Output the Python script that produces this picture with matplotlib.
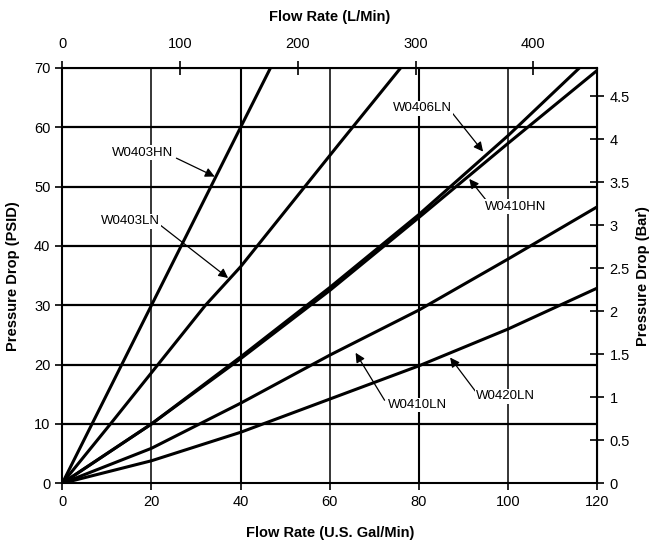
import matplotlib
matplotlib.use("Agg")
import matplotlib.pyplot as plt

plt.rcParams['font.family'] = ['Liberation Sans', 'DejaVu Sans']

# Flow (US gal/min) vs pressure drop (PSID)
w0403hn_gpm = [0, 10, 20, 40, 46.7]
w0403hn_psi = [0, 15, 30, 60, 70]
w0403ln_gpm = [0, 10.8, 32.1, 40, 62.2, 75.9]
w0403ln_psi = [0, 10, 30, 36.5, 57.3, 70]
w0406ln_gpm = [0, 20, 40, 60, 80, 100, 116]
w0406ln_psi = [0, 10, 21.3, 33, 45.3, 58.6, 70]
w0410hn_gpm = [0, 20, 40, 60, 80, 100, 120]
w0410hn_psi = [0, 10, 21, 32.5, 44.8, 57.3, 69.6]
w0410ln_gpm = [0, 20, 40, 60, 80, 100, 120]
w0410ln_psi = [0, 5.9, 13.5, 21.6, 29.2, 37.8, 46.6]
w0420ln_gpm = [0, 20, 40, 60, 80, 100, 120]
w0420ln_psi = [0, 3.8, 8.6, 14.2, 19.8, 26.0, 32.9]

x_ticks = [0, 20, 40, 60, 80, 100, 120]
y_ticks = [0, 10, 20, 30, 40, 50, 60, 70]
lpm_ticks = [0, 100, 200, 300, 400]
bar_ticks = [0, 0.5, 1, 1.5, 2, 2.5, 3, 3.5, 4, 4.5]

GPM_TO_LPM = 3.78541
PSI_TO_BAR = 1 / 14.5038

fig = plt.figure(figsize=(6.57, 5.46), dpi=100)
ax = fig.add_axes([0.0948, 0.1148, 0.8142, 0.7607])

# grid lines
for yv in [10, 20, 30, 40, 50, 60]:
    ax.axhline(yv, color='black', lw=1.6, zorder=1)
for xv, lw in [(20, 1.1), (40, 1.5), (60, 1.1), (80, 1.5), (100, 1.1)]:
    ax.axvline(xv, color='black', lw=lw, zorder=1)

series = [
    (w0403hn_gpm, w0403hn_psi),
    (w0403ln_gpm, w0403ln_psi),
    (w0406ln_gpm, w0406ln_psi),
    (w0410hn_gpm, w0410hn_psi),
    (w0410ln_gpm, w0410ln_psi),
    (w0420ln_gpm, w0420ln_psi),
]
for xs, ys in series:
    ax.plot(xs, ys, color='black', lw=2.2, solid_capstyle='butt', zorder=3, clip_on=True)

ax.set_xlim(0, 120)
ax.set_ylim(0, 70)
ax.set_xticks(x_ticks)
ax.set_yticks(y_ticks)
ax.tick_params(axis='both', direction='out', length=5, width=1.2, labelsize=10.5, colors='black')
for sp in ax.spines.values():
    sp.set_linewidth(1.5)

ax.set_xlabel('Flow Rate (U.S. Gal/Min)', fontsize=10.5, fontweight='bold', labelpad=12)
ax.set_ylabel('Pressure Drop (PSID)', fontsize=10.5, fontweight='bold', labelpad=10)

secx = ax.secondary_xaxis('top', functions=(lambda g: g * GPM_TO_LPM, lambda l: l / GPM_TO_LPM))
secx.set_xticks(lpm_ticks)
secx.tick_params(direction='inout', length=10, width=1.2, labelsize=10.5, pad=7)
secx.set_xlabel('Flow Rate (L/Min)', fontsize=10.5, fontweight='bold', labelpad=12)

secy = ax.secondary_yaxis('right', functions=(lambda p: p * PSI_TO_BAR, lambda b: b / PSI_TO_BAR))
secy.set_yticks(bar_ticks)
secy.set_yticklabels(['0', '0.5', '1', '1.5', '2', '2.5', '3', '3.5', '4', '4.5'])
secy.tick_params(direction='inout', length=10, width=1.2, labelsize=10.5, pad=4)
secy.set_ylabel('Pressure Drop (Bar)', fontsize=10.5, fontweight='bold', labelpad=4)

arrow = dict(arrowstyle='-|>', color='black', lw=0.9, mutation_scale=14, shrinkA=0, shrinkB=0)
labels = [
    ('W0403HN', (18.1, 55.7), (25.6, 54.8), (34.2, 51.7)),
    ('W0403LN', (15.2, 44.2), (21.5, 43.8), (37.2, 34.6)),
    ('W0406LN', (80.8, 63.2), (87.5, 62.4), (94.4, 55.9)),
    ('W0410HN', (101.7, 46.6), (95.0, 47.8), (91.3, 51.3)),
    ('W0410LN', (79.7, 13.2), (72.3, 14.0), (65.8, 22.0)),
    ('W0420LN', (99.5, 14.7), (92.8, 15.4), (87.0, 21.2)),
]
for name, txy, tail, head in labels:
    ax.text(txy[0], txy[1], name, fontsize=9.5, ha='center', va='center', zorder=5,
            bbox=dict(facecolor='white', edgecolor='none', pad=1.0))
    ax.annotate('', xy=head, xytext=tail, arrowprops=arrow, zorder=4)

fig.savefig('out.png', dpi=100)
